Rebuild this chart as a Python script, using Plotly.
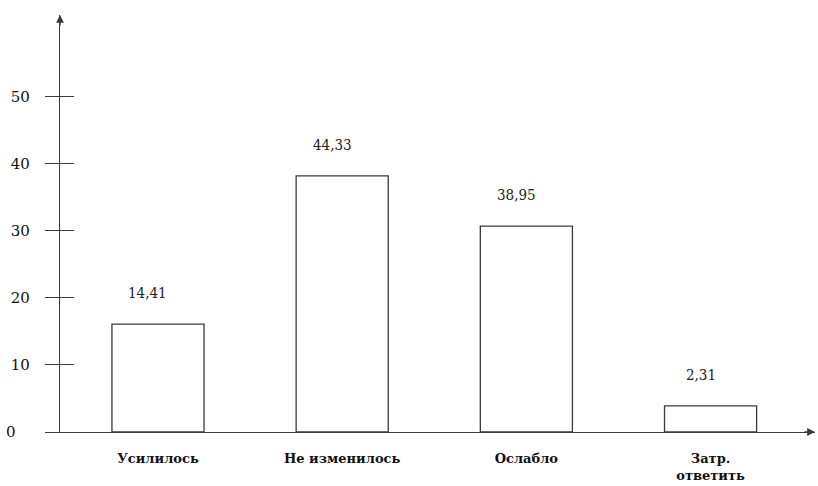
import plotly.graph_objects as go

categories = ["Усилилось", "Не изменилось", "Ослабло", "Затр.<br>ответить"]
category_text = ["<b>Усилилось</b>", "<b>Не изменилось</b>", "<b>Ослабло</b>", "<b>Затр.</b><br><b>ответить</b>"]
value_labels = ["14,41", "44,33", "38,95", "2,31"]
bar_heights = [16.1, 38.2, 30.7, 3.9]
y_ticks = [0, 10, 20, 30, 40, 50]
y_tick_text = ["0\u00a0\u00a0\u00a0", "10", "20", "30", "40", "50"]

FONT = "DejaVu Serif"
LINE = "#3a3a3a"

fig = go.Figure()
fig.add_trace(go.Bar(
    x=categories, y=bar_heights, width=0.5,
    marker=dict(color="white", line=dict(color=LINE, width=1.3)),
    showlegend=False, hoverinfo="skip",
))

for c, h, t in zip(categories, bar_heights, value_labels):
    fig.add_annotation(x=c, y=h, text=t, showarrow=False, yanchor="middle",
                       yshift=31, xshift=-10,
                       font=dict(family="DejaVu Serif Condensed", size=15, color="#222"))

# axis arrowheads
fig.add_annotation(x=1, y=0, xref="paper", yref="paper", ax=-12, ay=0,
                   showarrow=True, arrowhead=2, arrowsize=1.2, arrowwidth=1.3,
                   arrowcolor=LINE, text="")
fig.add_annotation(x=0, y=1, xref="paper", yref="paper", ax=0, ay=12,
                   showarrow=True, arrowhead=2, arrowsize=1.2, arrowwidth=1.3,
                   arrowcolor=LINE, text="")

yr = [0, 62.2]
fig.update_layout(
    width=818, height=486,
    margin=dict(l=60, r=3, t=15, b=54, autoexpand=False),
    paper_bgcolor="white", plot_bgcolor="white",
    font=dict(family=FONT, color="#111"),
    xaxis=dict(
        type="category", range=[-0.532, 3.567], showline=True, linecolor=LINE,
        linewidth=1.3, ticks="", showgrid=False, zeroline=False,
        tickvals=categories, ticktext=category_text,
        tickfont=dict(family=FONT, size=13, color="#111"),
        ticklabelstandoff=14, automargin=False,
    ),
    yaxis=dict(
        range=yr, showline=True, linecolor=LINE, linewidth=1.3,
        tickvals=y_ticks, ticktext=y_tick_text, ticks="outside", ticklen=14,
        tickcolor=LINE, tickwidth=1.3, showgrid=False, zeroline=False,
        tickfont=dict(family=FONT, size=15, color="#111"),
        ticklabelstandoff=12, automargin=False,
    ),
    yaxis2=dict(
        range=yr, overlaying="y", tickvals=y_ticks[1:], ticks="inside",
        ticklen=14, tickcolor=LINE, tickwidth=1.3, showticklabels=False,
        showgrid=False, zeroline=False, showline=False, automargin=False,
    ),
)
fig.add_trace(go.Scatter(x=[categories[0]], y=[None], yaxis="y2",
                         showlegend=False, hoverinfo="skip"))

fig.write_html("out.html", config={"displayModeBar": False},
               post_script="document.body.style.margin='0';document.body.style.padding='0';")
